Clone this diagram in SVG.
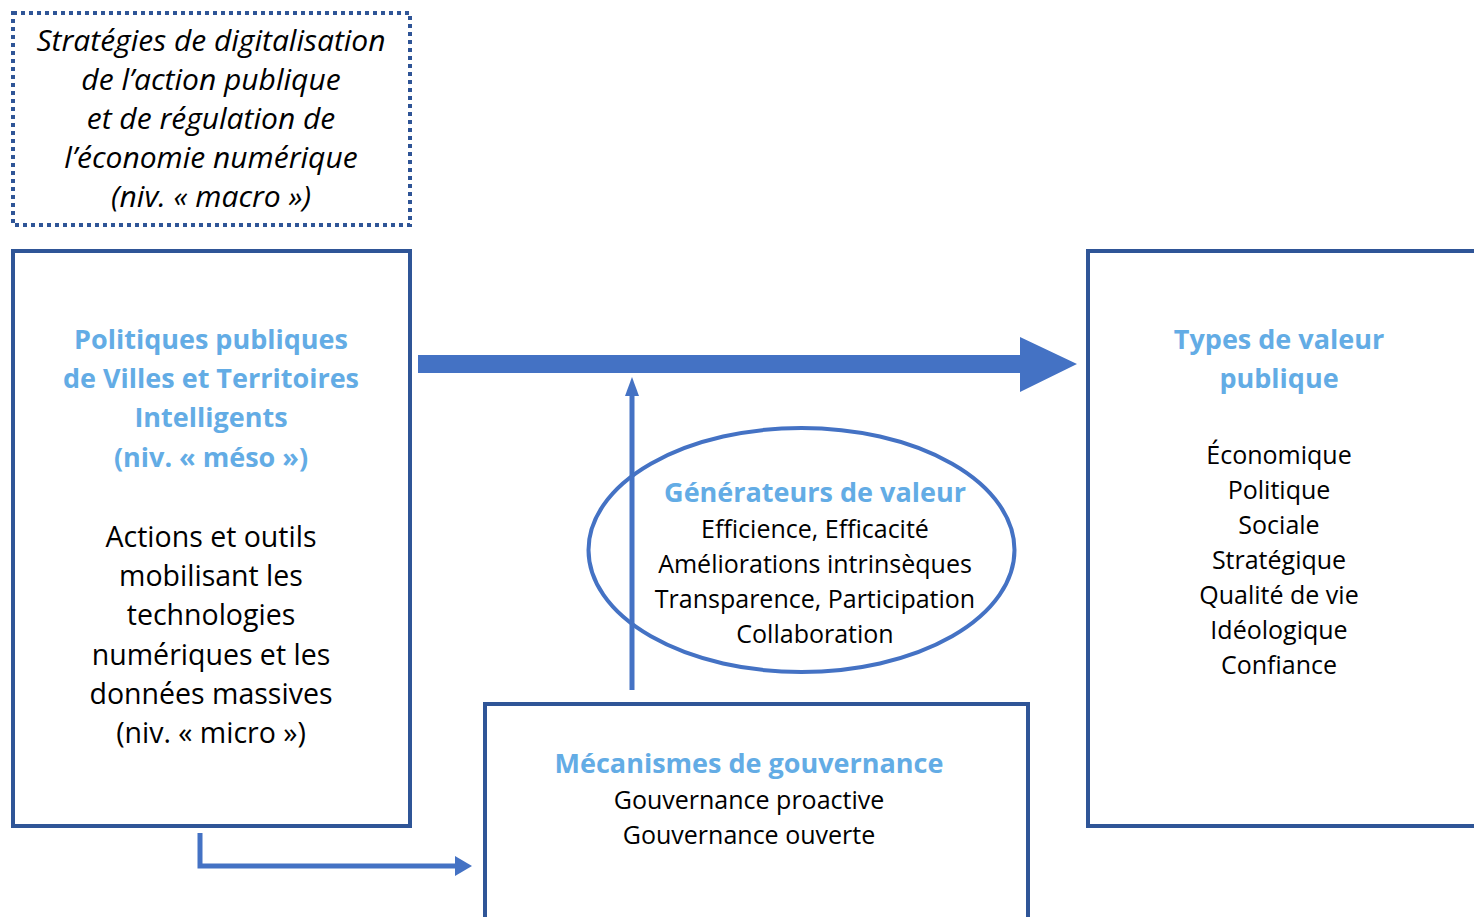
<svg xmlns="http://www.w3.org/2000/svg" width="1474" height="917" viewBox="0 0 1474 917">
<style>
text{font-family:"Open Sans","Noto Sans","DejaVu Sans",sans-serif;text-anchor:middle}
.box{fill:none;stroke:#2F5597;stroke-width:4}
.t{fill:#63ACE5;font-weight:bold;font-size:27px}
.b{fill:#000;font-size:28.5px}
.s{fill:#000;font-size:25px}
.i{fill:#000;font-size:30px;font-style:italic}
.c{stroke:#4472C4;fill:none}
</style>
<rect width="1474" height="917" fill="#fff"/>
<g id="macro">
<rect x="13" y="13" width="397" height="212" class="box" stroke-dasharray="4 4"/>
<text class="i" x="211" y="51">Stratégies de digitalisation</text>
<text class="i" x="211" y="90">de l’action publique</text>
<text class="i" x="211" y="129">et de régulation de</text>
<text class="i" x="211" y="168">l’économie numérique</text>
<text class="i" x="211" y="207">(niv. « macro »)</text>
</g>
<g id="meso">
<rect x="13" y="251" width="397" height="575" class="box"/>
<text class="t" x="211" y="349">Politiques publiques</text>
<text class="t" x="211" y="388">de Villes et Territoires</text>
<text class="t" x="211" y="427">Intelligents</text>
<text class="t" x="211" y="467">(niv. « méso »)</text>
<text class="b" x="211" y="547">Actions et outils</text>
<text class="b" x="211" y="586">mobilisant les</text>
<text class="b" x="211" y="625">technologies</text>
<text class="b" x="211" y="665">numériques et les</text>
<text class="b" x="211" y="704">données massives</text>
<text class="b" x="211" y="743">(niv. « micro »)</text>
</g>
<g id="types">
<rect x="1088" y="251" width="400" height="575" class="box"/>
<text class="t" x="1279" y="349">Types de valeur</text>
<text class="t" x="1279" y="388">publique</text>
<text class="s" x="1279" y="464">Économique</text>
<text class="s" x="1279" y="499">Politique</text>
<text class="s" x="1279" y="534">Sociale</text>
<text class="s" x="1279" y="569">Stratégique</text>
<text class="s" x="1279" y="604">Qualité de vie</text>
<text class="s" x="1279" y="639">Idéologique</text>
<text class="s" x="1279" y="674">Confiance</text>
</g>
<g id="gouvernance">
<rect x="485" y="704" width="543" height="230" class="box"/>
<text class="t" x="749" y="773">Mécanismes de gouvernance</text>
<text class="s" x="749" y="809">Gouvernance proactive</text>
<text class="s" x="749" y="844">Gouvernance ouverte</text>
</g>
<g id="connectors">
<polygon points="418,355 1020,355 1020,337 1077,364 1020,392 1020,373 418,373" fill="#4472C4"/>
<line x1="632" y1="690" x2="632" y2="394" class="c" stroke-width="5"/>
<polygon points="625,396 632,377 639,396" fill="#4472C4"/>
<polyline points="200,833 200,866 456,866" class="c" stroke-width="5"/>
<polygon points="455,856 472,866 455,876" fill="#4472C4"/>
</g>
<g id="generateurs">
<ellipse cx="801.5" cy="550" rx="213" ry="122" class="c" stroke-width="4"/>
<text class="t" x="815" y="502">Générateurs de valeur</text>
<text class="s" x="815" y="538">Efficience, Efficacité</text>
<text class="s" x="815" y="573">Améliorations intrinsèques</text>
<text class="s" x="815" y="608">Transparence, Participation</text>
<text class="s" x="815" y="643">Collaboration</text>
</g>
</svg>
